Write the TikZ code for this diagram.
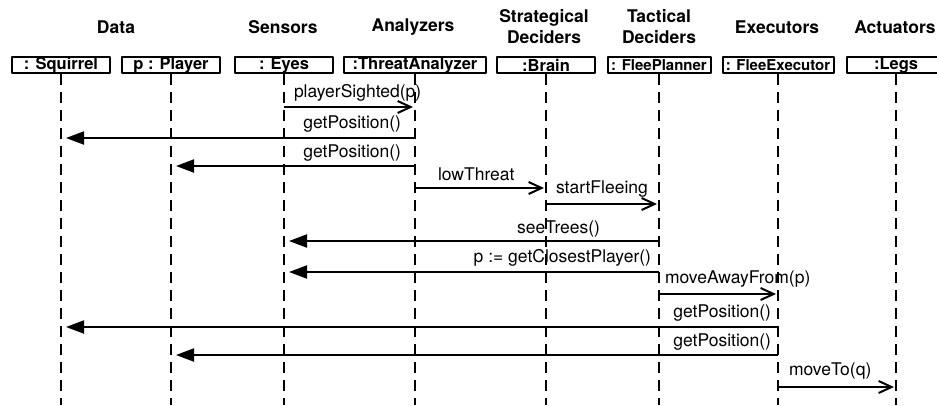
\documentclass[tikz,border=0pt]{standalone}
\usepackage{fontspec}
\setmainfont{TeX Gyre Heros}
\usetikzlibrary{arrows.meta}
\begin{document}
\begin{tikzpicture}[x=1pt,y=-1pt,line width=2pt,line join=round,
	obj/.style={draw,minimum width=98pt,minimum height=16pt,inner sep=0pt,font=\fontsize{16.5}{17}\selectfont\bfseries},
	tight/.style={font=\fontsize{15}{16}\selectfont\bfseries},
	layer/.style={align=center,font=\fontsize{17.5}{21}\selectfont\bfseries},
	msg/.style={inner sep=0pt,font=\fontsize{17.5}{20}\selectfont},
	life/.style={dash pattern=on 11pt off 7pt},
	call/.style={-{Triangle[length=18pt,width=13pt]},shorten >=5pt},
	sig/.style={-{Straight Barb[length=13pt,width=12pt,line width=2pt]},shorten >=2pt}]
	\useasboundingbox (0,0) rectangle (937,405);
	\clip (0,0) rectangle (937,405);
	\coordinate (bottom) at (0,405);
	% layers
	\foreach \n/\x/\txt in {data/116/Data,sens/283/Sensors,ana/413/Analyzers,strat/544/{Strategical\\Deciders},tact/659/{Tactical\\Deciders},exe/777/Executors,act/895/Actuators}
		\node[layer] (\n) at (\x,27) {\txt};
	% objects
	\node[obj] (sq) at (61,65) {: Squirrel};
	\node[obj] (pl) at (171,65) {p : Player};
	\node[obj] (ey) at (284,65) {: Eyes};
	\node[obj,minimum width=142pt] (ta) at (415,65) {:ThreatAnalyzer};
	\node[obj] (br) at (546,65) {:Brain};
	\node[obj,tight,minimum width=103pt] (fp) at (659,65) {: FleePlanner};
	\node[obj,tight,minimum width=111pt] (fe) at (778,65) {: FleeExecutor};
	\node[obj] (lg) at (896,65) {:Legs};
	\foreach \n in {sq,pl,ey,ta,br,fp,fe,lg}
		\draw[life] (\n.south) -- (\n.south |- bottom);
	% messages
	\foreach \f/\t/\y/\s in {ey/ta/107/sig,ta/sq/138/call,ta/pl/166/call,ta/br/188/sig,br/fp/204/sig,fp/ey/241/call,fp/ey/272/call,fp/fe/294/sig,fe/sq/327/call,fe/pl/355/call,fe/lg/387/sig}
		\draw[\s] (\f |- 0,\y) -- (\t |- 0,\y);
	\foreach \n/\x/\y/\a/\txt in {m1/293/93/west/playerSighted(p),m2/402/124/east/getPosition(),m3/402/153/east/getPosition(),m4/437/174/west/lowThreat,m5/555/189/west/startFleeing,m6/601/229/east/seeTrees(),m7/652/258/east/{p := getClosestPlayer()},m8/664/279/west/moveAwayFrom(p),m9/772/313/east/getPosition(),m10/772/342/east/getPosition(),m11/788/371/west/moveTo(q)}
		\node[msg,anchor=\a] (\n) at (\x,\y) {\txt};
\end{tikzpicture}
\end{document}
